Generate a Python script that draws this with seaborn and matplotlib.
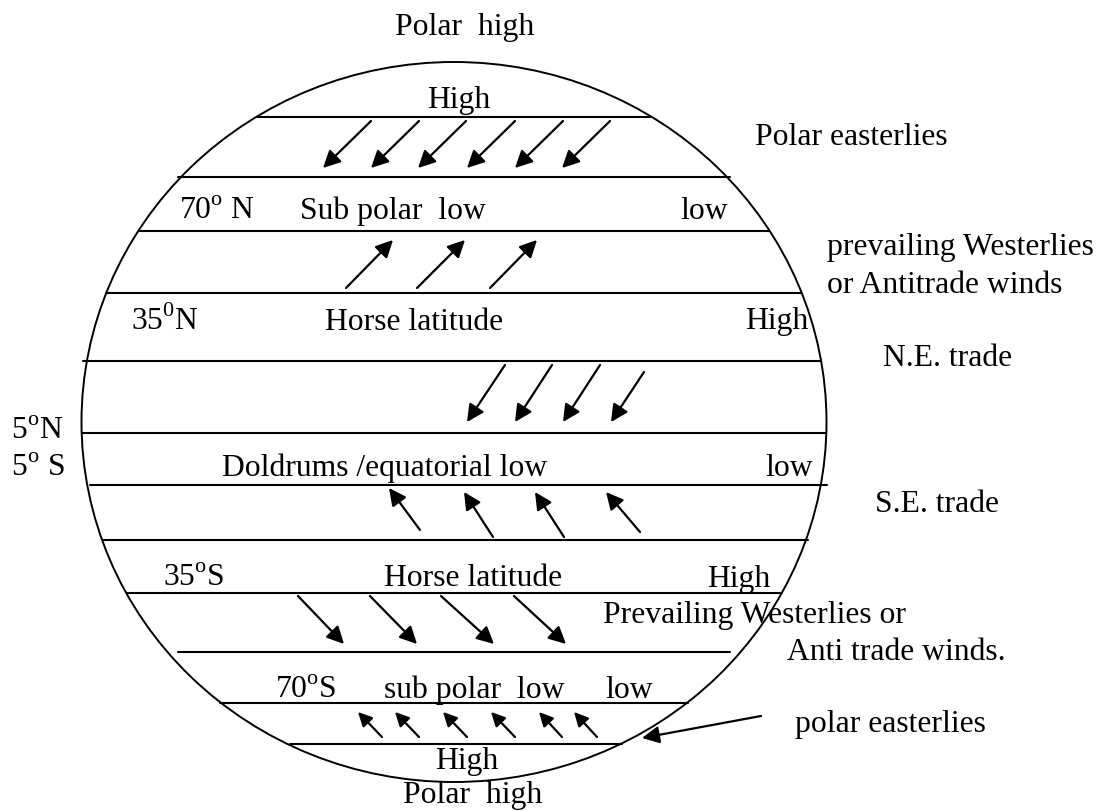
import matplotlib
matplotlib.use("Agg")
import matplotlib.pyplot as plt
from matplotlib.patches import Ellipse
import pandas as pd
import seaborn as sns

# Globe outline (pixel space of the 1101x812 picture)
globe_center = (454, 423)
globe_size = (745, 720)

# Latitude band lines: y, left end, right end
band_y = [118, 178, 232, 294, 362, 434, 486, 541, 594, 653, 704, 745]
band_x0 = [257, 178, 139, 106, 83, 82, 90, 103, 127, 178, 220, 290]
band_x1 = [650, 730, 769, 801, 820, 826, 827, 808, 782, 730, 688, 622]

# Wind arrows per belt: tails and heads
polar_n_tail_x = [371, 419, 466, 515, 563, 610]
polar_n_head_x = [323, 371, 418, 467, 515, 562]
polar_n_y = (122, 169)

west_n_tail_x = [346, 417, 490]
west_n_head_x = [393, 465, 537]
west_n_y = (289, 241)

ne_tail_x = [505, 552, 600, 644]
ne_tail_y = [366, 366, 366, 373]
ne_head_x = [467, 515, 563, 611]
ne_head_y = [423, 423, 423, 423]

se_tail_x = [420, 493, 564, 640]
se_tail_y = [531, 538, 538, 533]
se_head_x = [389, 464, 535, 606]
se_head_y = [489, 493, 493, 493]

west_s_tail_x = [298, 370, 441, 514]
west_s_head_x = [344, 417, 494, 566]
west_s_y = (597, 645)

polar_s_tail_x = [382, 419, 467, 515, 562, 597]
polar_s_head_x = [358, 395, 443, 491, 539, 574]
polar_s_y = (738, 713)

pointer_tail = (761, 717)
pointer_head = (642, 739)

# Labels: text, x (left), baseline y
labels = [
    ("Polar  high", 395, 35),
    ("High", 427, 108),
    ("Polar easterlies", 755, 145),
    (r"70$^{\mathrm{o}}$ N", 179, 219),
    ("Sub polar  low", 300, 219),
    ("low", 680, 219),
    ("prevailing Westerlies", 827, 255),
    ("or Antitrade winds", 827, 293),
    (r"35$^{\mathrm{0}}$N", 131, 330),
    ("Horse latitude", 325, 330),
    ("High", 745, 329),
    ("N.E. trade", 883, 366),
    (r"5$^{\mathrm{o}}$N", 11, 439),
    (r"5$^{\mathrm{o}}$ S", 11, 476),
    ("Doldrums /equatorial low", 222, 476),
    ("low", 765, 476),
    ("S.E. trade", 875, 512),
    (r"35$^{\mathrm{o}}$S", 163, 586),
    ("Horse latitude", 384, 586),
    ("High", 707, 587),
    ("Prevailing Westerlies or", 603, 623),
    ("Anti trade winds.", 787, 660),
    (r"70$^{\mathrm{o}}$S", 275, 698),
    ("sub polar  low", 384, 698),
    ("low", 605, 698),
    ("polar easterlies", 795, 732),
    ("High", 435, 769),
    ("Polar  high", 403, 803),
]

sns.set_theme(style="white")
plt.rcParams['font.family'] = ['Liberation Serif', 'DejaVu Serif']
plt.rcParams['mathtext.fontset'] = 'custom'
plt.rcParams['mathtext.rm'] = 'Liberation Serif'

fig = plt.figure(figsize=(11.01, 8.12), dpi=100)
ax = fig.add_axes([0, 0, 1, 1])

# globe
ax.add_patch(Ellipse(globe_center, globe_size[0], globe_size[1],
                     fill=False, edgecolor='black', lw=1.4))

# band lines through seaborn
rows = []
for i, (y, a, b) in enumerate(zip(band_y, band_x0, band_x1)):
    rows.append({'band': i, 'x': a, 'y': y})
    rows.append({'band': i, 'x': b, 'y': y})
bands = pd.DataFrame(rows)
sns.lineplot(data=bands, x='x', y='y', units='band', estimator=None,
             color='black', lw=1.5, ax=ax, legend=False)
ax.set_xlim(0, 1101)
ax.set_ylim(812, 0)
ax.axis('off')


def arrow(tail, head, scale=26):
    ax.annotate("", xy=head, xytext=tail,
                arrowprops=dict(arrowstyle='-|>', color='black', lw=1.6,
                                shrinkA=0, shrinkB=0, mutation_scale=scale))


for tx, hx in zip(polar_n_tail_x, polar_n_head_x):
    arrow((tx, polar_n_y[0]), (hx, polar_n_y[1]))
for tx, hx in zip(west_n_tail_x, west_n_head_x):
    arrow((tx, west_n_y[0]), (hx, west_n_y[1]))
for tx, ty, hx, hy in zip(ne_tail_x, ne_tail_y, ne_head_x, ne_head_y):
    arrow((tx, ty), (hx, hy))
for tx, ty, hx, hy in zip(se_tail_x, se_tail_y, se_head_x, se_head_y):
    arrow((tx, ty), (hx, hy))
for tx, hx in zip(west_s_tail_x, west_s_head_x):
    arrow((tx, west_s_y[0]), (hx, west_s_y[1]))
for tx, hx in zip(polar_s_tail_x, polar_s_head_x):
    arrow((tx, polar_s_y[0]), (hx, polar_s_y[1]), scale=21)
arrow(pointer_tail, pointer_head)

for txt, x, y in labels:
    ax.text(x, y, txt, fontsize=22.8, ha='left', va='baseline', color='black')

fig.savefig("out.png", dpi=100, facecolor='white')
